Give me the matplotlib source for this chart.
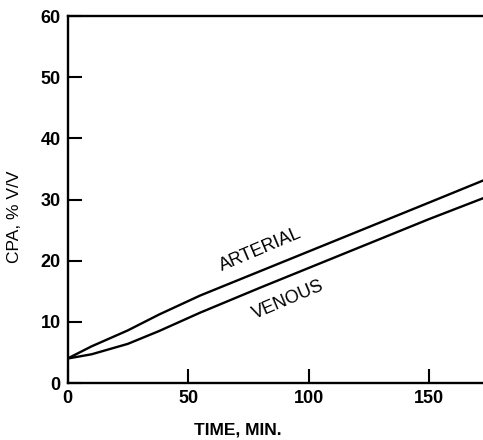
import matplotlib.pyplot as plt

plt.rcParams['font.family'] = ['Liberation Sans', 'DejaVu Sans']

# CPA concentration over time, arterial vs venous
time_min = [0, 10, 25, 38, 55, 80, 105, 130, 150, 173]
arterial = [4.0, 6.0, 8.6, 11.2, 14.3, 18.3, 22.3, 26.3, 29.5, 33.2]
venous = [4.0, 4.7, 6.4, 8.5, 11.5, 15.6, 19.6, 23.6, 26.8, 30.3]

xticks = [0, 50, 100, 150]
yticks = [0, 10, 20, 30, 40, 50, 60]

fig = plt.figure(figsize=(4.83, 4.4), dpi=100)
ax = fig.add_axes([0.1398, 0.1295, 0.8602, 0.834])

ax.plot(time_min, arterial, color="black", lw=1.7)
ax.plot(time_min, venous, color="black", lw=1.7)

ax.set_xlim(0, 172.4)
ax.set_ylim(0, 60)
ax.set_xticks(xticks)
ax.set_yticks(yticks)

for side in ["left", "bottom", "top"]:
    ax.spines[side].set_linewidth(1.7)
ax.spines["right"].set_visible(False)

ax.tick_params(direction="in", length=10, width=1.5, labelsize=13, pad=5)
for lab in ax.get_xticklabels() + ax.get_yticklabels():
    lab.set_fontweight("bold")

ax.set_xlabel("TIME, MIN.", fontsize=12.5, fontweight="bold")
ax.set_ylabel("CPA, % V/V", fontsize=12.5)
ax.xaxis.set_label_coords(0.41, -0.108)
ax.yaxis.set_label_coords(-0.11, 0.452)

ax.text(80, 21.8, "ARTERIAL", rotation=23, fontsize=13,
        ha="center", va="center")
ax.text(91.5, 13.6, "VENOUS", rotation=23, fontsize=13,
        ha="center", va="center")

fig.savefig("out.png", dpi=100)
